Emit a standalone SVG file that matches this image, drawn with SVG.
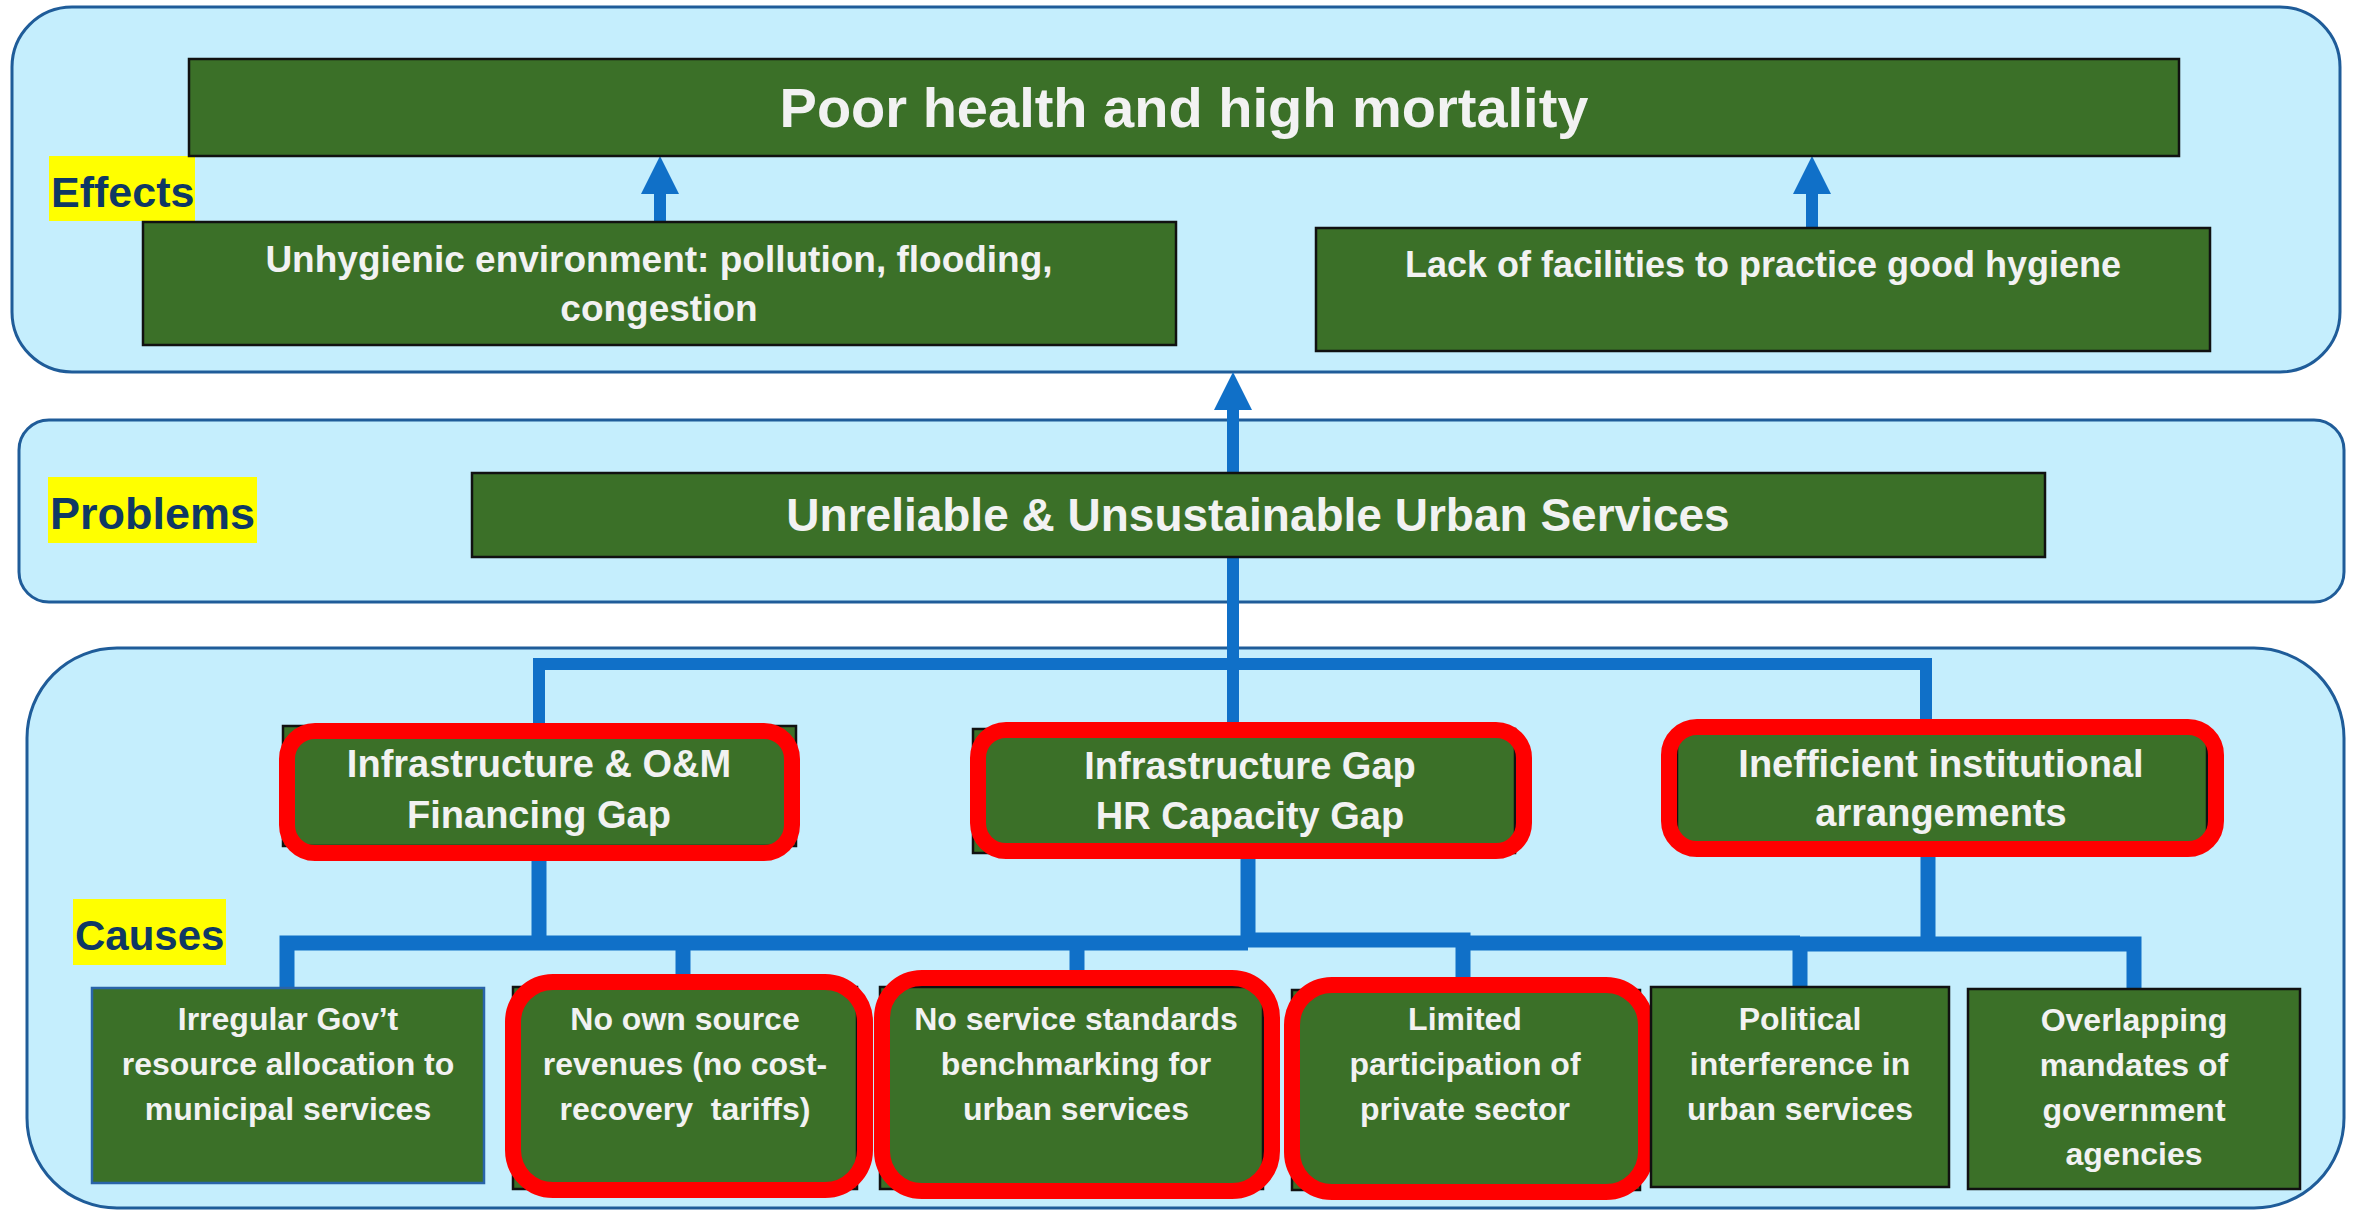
<svg xmlns="http://www.w3.org/2000/svg" width="2354" height="1210" viewBox="0 0 2354 1210">
<defs>
<style>
.panel{fill:#C5EEFD;stroke:#1F5C99;stroke-width:3}
.box{fill:#3B7028;stroke:#111;stroke-width:2.5}
.boxb{fill:#3B7028;stroke:#2A64A8;stroke-width:2.5}
.hl{fill:none;stroke:#FF0000;stroke-width:16}
.tag{fill:#FFFF00}
.tagt{font-family:"Liberation Sans",Arial,sans-serif;font-weight:bold;fill:#0F3864}
.t{font-family:"Liberation Sans",Arial,sans-serif;font-weight:bold;fill:#F2F2F2;text-anchor:middle}
.conn{fill:none;stroke:#1070C8;stroke-linejoin:miter}
</style>
<marker id="ah" markerUnits="userSpaceOnUse" markerWidth="38" markerHeight="38" viewBox="0 0 38 38" refX="0" refY="19" orient="auto">
<polygon points="0,0 38,19 0,38" fill="#1070C8"/>
</marker>
</defs>

<g id="panels">
<rect id="effects-panel" class="panel" x="12" y="7" width="2328" height="365" rx="60"/>
<rect id="problems-panel" class="panel" x="19" y="420" width="2325" height="182" rx="30"/>
<rect id="causes-panel" class="panel" x="27" y="648" width="2317" height="560" rx="90"/>
</g>

<g id="connectors">
<path class="conn" stroke-width="12" d="M660 222 V194" marker-end="url(#ah)"/>
<path class="conn" stroke-width="12" d="M1812 228 V194" marker-end="url(#ah)"/>
<path class="conn" stroke-width="12" d="M1233 473 V410" marker-end="url(#ah)"/>
<path class="conn" stroke-width="12" d="M1233 557 V722"/>
<path class="conn" stroke-width="12" d="M539 727 V664 H1926 V720"/>
<path class="conn" stroke-width="15" d="M539 860 V943"/>
<path class="conn" stroke-width="15" d="M287 989 V943 H1248"/>
<path class="conn" stroke-width="15" d="M683 943 V975"/>
<path class="conn" stroke-width="15" d="M1077 943 V988"/>
<path class="conn" stroke-width="15" d="M1248 858 V940 H1463 V978"/>
<path class="conn" stroke-width="15" d="M1463 943 H1800"/>
<path class="conn" stroke-width="15" d="M1928 856 V944"/>
<path class="conn" stroke-width="15" d="M1800 988 V944 H2134 V990"/>
</g>

<g id="label-effects">
<rect class="tag" x="49" y="156" width="146" height="65"/>
<text class="tagt" x="51" y="207" font-size="43">Effects</text>
</g>
<g id="label-problems">
<rect class="tag" x="48" y="477" width="209" height="66"/>
<text class="tagt" x="50" y="529" font-size="45">Problems</text>
</g>
<g id="label-causes">
<rect class="tag" x="73" y="899" width="153" height="66"/>
<text class="tagt" x="75" y="950" font-size="42">Causes</text>
</g>

<g id="node-poor-health">
<rect class="box" x="189" y="59" width="1990" height="97"/>
<text class="t" x="1184" y="127" font-size="56">Poor health and high mortality</text>
</g>
<g id="node-unhygienic">
<rect class="box" x="143" y="222" width="1033" height="123"/>
<text class="t" x="659" y="272" font-size="37">Unhygienic environment: pollution, flooding,</text>
<text class="t" x="659" y="321" font-size="37">congestion</text>
</g>
<g id="node-lack-facilities">
<rect class="box" x="1316" y="228" width="894" height="123"/>
<text class="t" x="1763" y="277" font-size="36">Lack of facilities to practice good hygiene</text>
</g>
<g id="node-unreliable">
<rect class="box" x="472" y="473" width="1573" height="84"/>
<text class="t" x="1258" y="531" font-size="46">Unreliable &amp; Unsustainable Urban Services</text>
</g>

<g id="node-financing-gap">
<rect class="box" x="283" y="726" width="513" height="120"/>
<rect class="hl" x="287" y="731" width="505" height="122" rx="28"/>
<text class="t" x="539" y="777" font-size="38">Infrastructure &amp; O&amp;M</text>
<text class="t" x="539" y="828" font-size="38">Financing Gap</text>
</g>
<g id="node-infra-hr-gap">
<rect class="box" x="973" y="729" width="542" height="124"/>
<rect class="hl" x="978" y="730" width="546" height="121" rx="28"/>
<text class="t" x="1250" y="779" font-size="38">Infrastructure Gap</text>
<text class="t" x="1250" y="829" font-size="38">HR Capacity Gap</text>
</g>
<g id="node-institutional">
<rect class="box" x="1677" y="733" width="530" height="110"/>
<rect class="hl" x="1669" y="727" width="547" height="122" rx="28"/>
<text class="t" x="1941" y="777" font-size="38">Inefficient institutional</text>
<text class="t" x="1941" y="826" font-size="38">arrangements</text>
</g>

<g id="node-irregular">
<rect class="boxb" x="92" y="988" width="392" height="195"/>
<text class="t" x="288" y="1030" font-size="32">Irregular Gov’t</text>
<text class="t" x="288" y="1075" font-size="32">resource allocation to</text>
<text class="t" x="288" y="1120" font-size="32">municipal services</text>
</g>
<g id="node-own-source">
<rect class="box" x="513" y="987" width="344" height="202"/>
<rect class="hl" x="513" y="982" width="352" height="208" rx="40"/>
<text class="t" x="685" y="1030" font-size="32">No own source</text>
<text class="t" x="685" y="1075" font-size="32">revenues (no cost-</text>
<text class="t" x="685" y="1120" font-size="32" xml:space="preserve">recovery  tariffs)</text>
</g>
<g id="node-service-standards">
<rect class="box" x="880" y="987" width="383" height="202"/>
<rect class="hl" x="882" y="978" width="390" height="213" rx="40"/>
<text class="t" x="1076" y="1030" font-size="32">No service standards</text>
<text class="t" x="1076" y="1075" font-size="32">benchmarking for</text>
<text class="t" x="1076" y="1120" font-size="32">urban services</text>
</g>
<g id="node-private-sector">
<rect class="box" x="1292" y="990" width="348" height="200"/>
<rect class="hl" x="1292" y="985" width="354" height="207" rx="40"/>
<text class="t" x="1465" y="1030" font-size="32">Limited</text>
<text class="t" x="1465" y="1075" font-size="32">participation of</text>
<text class="t" x="1465" y="1120" font-size="32">private sector</text>
</g>
<g id="node-political">
<rect class="box" x="1651" y="987" width="298" height="200"/>
<text class="t" x="1800" y="1030" font-size="32">Political</text>
<text class="t" x="1800" y="1075" font-size="32">interference in</text>
<text class="t" x="1800" y="1120" font-size="32">urban services</text>
</g>
<g id="node-overlapping">
<rect class="box" x="1968" y="989" width="332" height="200"/>
<text class="t" x="2134" y="1031" font-size="32">Overlapping</text>
<text class="t" x="2134" y="1076" font-size="32">mandates of</text>
<text class="t" x="2134" y="1121" font-size="32">government</text>
<text class="t" x="2134" y="1165" font-size="32">agencies</text>
</g>
</svg>
